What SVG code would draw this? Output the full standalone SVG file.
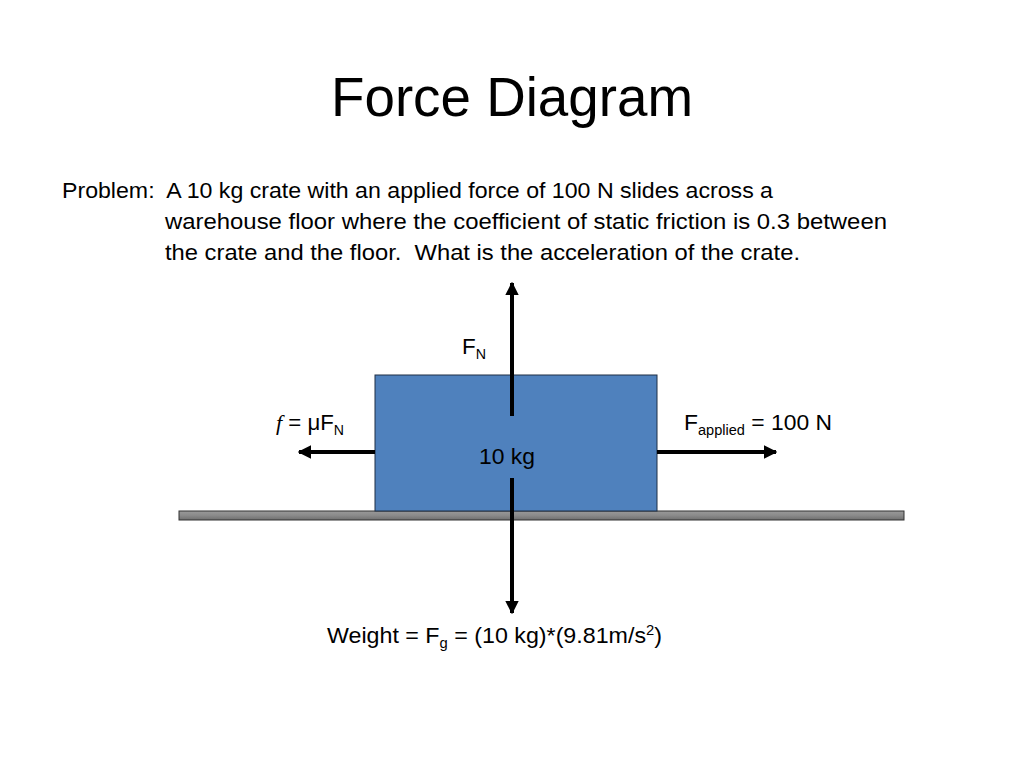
<svg xmlns="http://www.w3.org/2000/svg" width="1024" height="768" viewBox="0 0 1024 768">
<style>
text{font-family:"Liberation Sans",Arial,sans-serif;fill:#000}
.t{font-size:22px}
.lbl{font-size:22px}
.sub{font-size:14px}
.arr{stroke:#000;stroke-width:4;fill:none}
</style>
<defs>
<marker id="ah" viewBox="0 0 10 10" refX="9" refY="5" markerWidth="3.4" markerHeight="3.4" orient="auto" markerUnits="strokeWidth">
<path d="M0,0 L10,5 L0,10 Z" fill="#000"/>
</marker>
<linearGradient id="gnd" x1="0" y1="0" x2="0" y2="1">
<stop offset="0" stop-color="#9a9a9a"/>
<stop offset="0.5" stop-color="#8a8a8a"/>
<stop offset="1" stop-color="#6e6e6e"/>
</linearGradient>
</defs>
<rect width="1024" height="768" fill="#fff"/>
<text x="512" y="116" text-anchor="middle" font-size="55" textLength="362" lengthAdjust="spacingAndGlyphs">Force Diagram</text>
<g id="problem" class="t">
<text x="62" y="198" textLength="711" lengthAdjust="spacingAndGlyphs" xml:space="preserve">Problem:  A 10 kg crate with an applied force of 100 N slides across a</text>
<text x="165" y="229" textLength="722" lengthAdjust="spacingAndGlyphs">warehouse floor where the coefficient of static friction is 0.3 between</text>
<text x="165" y="260" textLength="635" lengthAdjust="spacingAndGlyphs" xml:space="preserve">the crate and the floor.  What is the acceleration of the crate.</text>
</g>
<g id="ground"><rect x="179" y="511" width="725" height="9" fill="url(#gnd)" stroke="#333" stroke-width="1"/></g>
<g id="crate">
<rect x="375" y="375" width="282" height="136" fill="#4F81BD" stroke="#1f2f45" stroke-width="1"/>
<text x="479" y="464" class="lbl" textLength="56" lengthAdjust="spacingAndGlyphs">10 kg</text>
</g>
<g id="connectors">
<line class="arr" x1="512" y1="416" x2="512" y2="283" marker-end="url(#ah)"/>
<line class="arr" x1="512" y1="478" x2="512" y2="613" marker-end="url(#ah)"/>
<line class="arr" x1="375" y1="452" x2="299" y2="452" marker-end="url(#ah)"/>
<line class="arr" x1="657" y1="452" x2="776" y2="452" marker-end="url(#ah)"/>
</g>
<g id="label-fn"><text x="462" y="354" class="lbl" textLength="24" lengthAdjust="spacingAndGlyphs">F<tspan class="sub" dy="5">N</tspan></text></g>
<g id="label-friction"><text x="276" y="430" class="lbl" textLength="68" lengthAdjust="spacingAndGlyphs"><tspan font-style="italic" font-family="Liberation Serif, serif">f</tspan> = μF<tspan class="sub" dy="5">N</tspan></text></g>
<g id="label-applied"><text x="684" y="430" class="lbl" textLength="148" lengthAdjust="spacingAndGlyphs">F<tspan class="sub" dy="5">applied</tspan><tspan dy="-5"> = 100 N</tspan></text></g>
<g id="label-weight"><text x="327" y="643" class="lbl" textLength="335" lengthAdjust="spacingAndGlyphs">Weight = F<tspan class="sub" dy="5">g</tspan><tspan dy="-5"> = (10 kg)*(9.81m/s</tspan><tspan class="sub" dy="-8">2</tspan><tspan dy="8">)</tspan></text></g>
</svg>
